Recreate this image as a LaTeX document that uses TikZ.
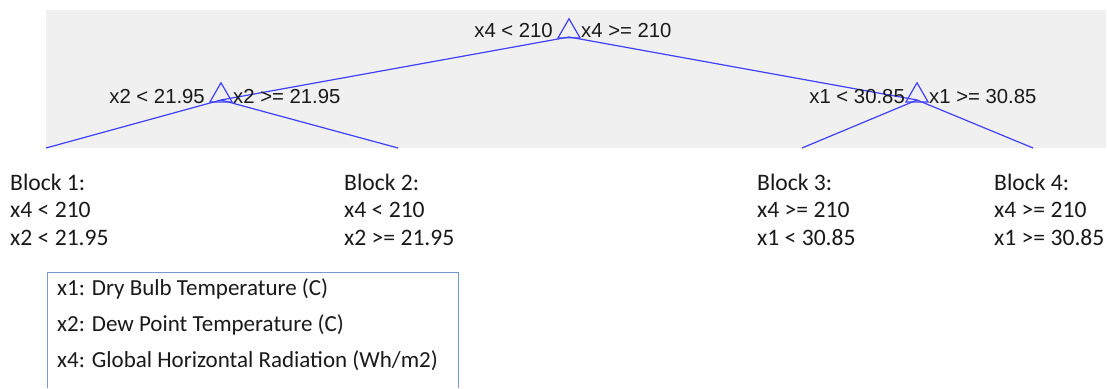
\documentclass[tikz,border=0pt]{standalone}
\usepackage{fontspec}
\setmainfont{Carlito}
\newfontfamily\treefont{Liberation Sans}
\usetikzlibrary{shapes.geometric}
\definecolor{trpanel}{RGB}{240,240,240}
\definecolor{trblue}{RGB}{64,64,250}
\definecolor{trink}{RGB}{25,25,25}
\definecolor{lgframe}{RGB}{122,152,212}

\begin{document}
\begin{tikzpicture}[
  x=1pt, y=-1pt,
  tri/.style={regular polygon, regular polygon sides=3, draw=trblue, line width=1.2pt,
    minimum size=25.5pt, inner sep=0pt, anchor=south},
  split/.style={font=\treefont\fontsize{20.3}{22}\selectfont, text=trink, inner sep=0pt},
  branch/.style={trblue, line width=1.2pt},
  block/.style={font=\fontsize{23.6}{27.5}\selectfont, text=trink, align=left,
    anchor=north west, inner sep=0pt},
  legline/.style={font=\fontsize{23}{26}\selectfont, text=trink, anchor=west, inner sep=0pt}
]
\useasboundingbox (0,0) rectangle (1107,388);
\fill[trpanel] (46,10) rectangle (1106,148);

% split points
\coordinate (root) at (569,37);
\coordinate (lft) at (221,100);
\coordinate (rgt) at (917,100);
\coordinate (leaf1) at (46,148);
\coordinate (leaf2) at (398,148);
\coordinate (leaf3) at (802,148);
\coordinate (leaf4) at (1033,148);

\draw[branch] (root) -- (lft);
\draw[branch] (root) -- (rgt);
\draw[branch] (lft) -- (leaf1);
\draw[branch] (lft) -- (leaf2);
\draw[branch] (rgt) -- (leaf3);
\draw[branch] (rgt) -- (leaf4);

\node[tri] (troot) at (569,38.5) {};
\node[tri] (tlft) at (221,102.5) {};
\node[tri] (trgt) at (917,102.5) {};

\node[split, anchor=east] (r1) at (553,31) {x4 < 210};
\node[split, anchor=west] (r2) at (581,31) {x4 >= 210};
\node[split, anchor=east] (l1) at (205,97) {x2 < 21.95};
\node[split, anchor=west] (l2) at (233,97) {x2 >= 21.95};
\node[split, anchor=east] (q1) at (905,97) {x1 < 30.85};
\node[split, anchor=west] (q2) at (929,97) {x1 >= 30.85};

% leaf blocks
\node[block] (b1) at (10,173.5) {Block 1:\\x4 < 210\\x2 < 21.95};
\node[block] (b2) at (344,173.5) {Block 2:\\x4 < 210\\x2 >= 21.95};
\node[block] (b3) at (757,173.5) {Block 3:\\x4 >= 210\\x1 < 30.85};
\node[block] (b4) at (994,173.5) {Block 4:\\x4 >= 210\\x1 >= 30.85};

% legend
\draw[lgframe, line width=0.9pt] (47,388) -- (47,272) -- (458,272) -- (458,388);
\node[legline] (g1) at (57,289) {x1: Dry Bulb Temperature (C)};
\node[legline] (g2) at (57,325) {x2: Dew Point Temperature (C)};
\node[legline] (g3) at (57,361) {x4: Global Horizontal Radiation (Wh/m2)};
\end{tikzpicture}
\end{document}
